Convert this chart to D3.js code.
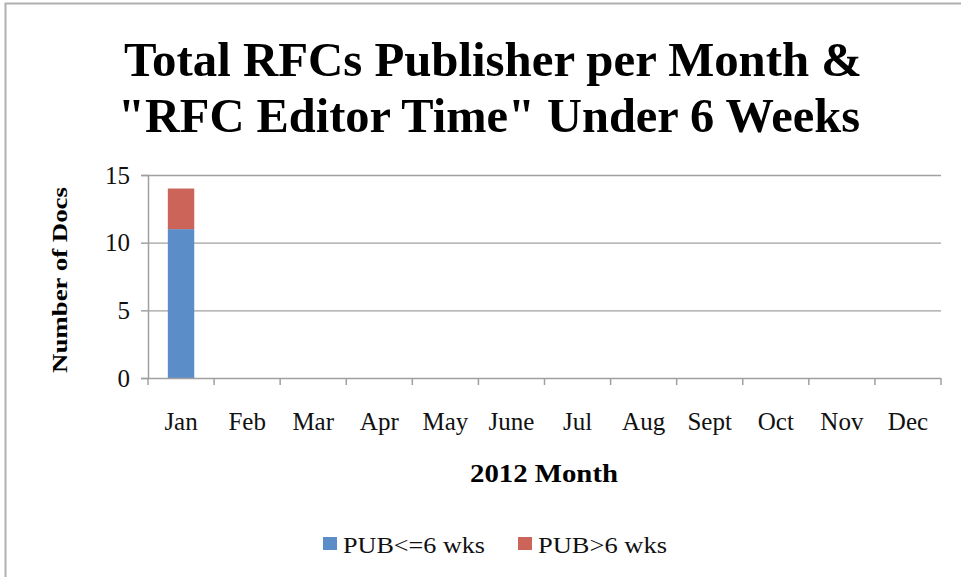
<!DOCTYPE html>
<html>
<head>
<meta charset="utf-8">
<script src="https://cdn.jsdelivr.net/npm/d3@7"></script>
<style>
  body { margin: 0; background: #fff; }
  svg { display: block; }
</style>
</head>
<body>
<div id="chart"></div>
<script>
const months = ["Jan", "Feb", "Mar", "Apr", "May", "June", "Jul", "Aug", "Sept", "Oct", "Nov", "Dec"];
const pubUnder6 = [11, 0, 0, 0, 0, 0, 0, 0, 0, 0, 0, 0];
const pubOver6 = [3, 0, 0, 0, 0, 0, 0, 0, 0, 0, 0, 0];
const seriesNames = ["PUB<=6 wks", "PUB>6 wks"];
const seriesColors = ["#5b8dc8", "#cc6459"];
const yTicks = [0, 5, 10, 15];

const W = 961, H = 577;
const margin = { top: 175, right: 20, bottom: 199, left: 148 };
const width = W - margin.left - margin.right;
const height = H - margin.top - margin.bottom;
const serif = "Liberation Serif, serif";

const svg = d3.select("#chart").append("svg")
    .attr("width", W)
    .attr("height", H);

// outer frame (top and left edges visible)
svg.append("path")
    .attr("d", `M5.5,${H} V3.5 H${W}`)
    .attr("fill", "none")
    .attr("stroke", "#b0b0b0")
    .attr("stroke-width", 2);

// title, squeezed to match the condensed original
const titleLines = ["Total RFCs Publisher per Month &", "\"RFC Editor Time\" Under 6 Weeks"];
const titleX = [[124, 862], [118, 860]];
svg.selectAll(".title")
    .data(titleLines)
    .join("text")
    .attr("class", "title")
    .attr("x", (d, i) => titleX[i][0])
    .attr("y", (d, i) => 76 + i * 56)
    .attr("font-family", serif)
    .attr("font-weight", "bold")
    .attr("font-size", 49)
    .attr("textLength", (d, i) => titleX[i][1] - titleX[i][0])
    .attr("lengthAdjust", "spacingAndGlyphs")
    .text(d => d);

const g = svg.append("g")
    .attr("transform", `translate(${margin.left},${margin.top})`);

const x = d3.scaleBand().domain(months).range([0, width]).paddingInner(0.6).paddingOuter(0.3);
const xOuter = d3.scaleBand().domain(months).range([0, width]);
const y = d3.scaleLinear().domain([0, 15]).range([height, 0]);

// gridlines
g.selectAll(".grid")
    .data(yTicks.filter(t => t > 0))
    .join("line")
    .attr("class", "grid")
    .attr("x1", 0).attr("x2", width)
    .attr("y1", d => y(d) + 0.5).attr("y2", d => y(d) + 0.5)
    .attr("stroke", "#a0a0a0")
    .attr("stroke-width", 1.3);

// stacked bars
const stackData = months.map((m, i) => ({ month: m, a: pubUnder6[i], b: pubOver6[i] }));
const stack = d3.stack().keys(["a", "b"])(stackData);
g.selectAll(".series")
    .data(stack)
    .join("g")
    .attr("class", "series")
    .attr("fill", (d, i) => seriesColors[i])
    .selectAll("rect")
    .data(d => d.filter(p => p[1] > p[0]))
    .join("rect")
    .attr("x", d => x(d.data.month))
    .attr("width", x.bandwidth())
    .attr("y", d => y(d[1]))
    .attr("height", d => y(d[0]) - y(d[1]));

// y axis
const yAxis = g.append("g")
    .call(d3.axisLeft(y).tickValues(yTicks).tickSize(7).tickPadding(11));
yAxis.select(".domain").attr("stroke", "#a0a0a0").attr("stroke-width", 1.5);
yAxis.selectAll(".tick line").attr("stroke", "#a0a0a0").attr("stroke-width", 1.5);
yAxis.selectAll(".tick text")
    .attr("font-family", serif)
    .attr("font-size", 25)
    .attr("fill", "#111");

// x axis baseline with category boundary ticks
const xa = g.append("g").attr("transform", `translate(0,${height})`);
xa.append("line")
    .attr("x1", 0).attr("x2", width)
    .attr("y1", 0.5).attr("y2", 0.5)
    .attr("stroke", "#a0a0a0").attr("stroke-width", 1.5);
const bounds = months.map(m => xOuter(m)).concat([width]);
xa.selectAll(".xtick")
    .data(bounds)
    .join("line")
    .attr("class", "xtick")
    .attr("x1", d => d).attr("x2", d => d)
    .attr("y1", 0).attr("y2", 7)
    .attr("stroke", "#a0a0a0").attr("stroke-width", 1.5);
xa.selectAll(".xlabel")
    .data(months)
    .join("text")
    .attr("class", "xlabel")
    .attr("x", d => xOuter(d) + xOuter.bandwidth() / 2)
    .attr("y", 52)
    .attr("text-anchor", "middle")
    .attr("font-family", serif)
    .attr("font-size", 25)
    .attr("fill", "#111")
    .text(d => d);

// axis titles
svg.append("text")
    .attr("x", 470)
    .attr("y", 482)
    .attr("font-family", serif)
    .attr("font-weight", "bold")
    .attr("font-size", 26)
    .attr("textLength", 148)
    .attr("lengthAdjust", "spacingAndGlyphs")
    .text("2012 Month");

svg.append("text")
    .attr("transform", "translate(67,373) rotate(-90)")
    .attr("font-family", serif)
    .attr("font-weight", "bold")
    .attr("font-size", 22)
    .attr("textLength", 186)
    .attr("lengthAdjust", "spacingAndGlyphs")
    .text("Number of Docs");

// legend
const legendX = [323, 518];
const legendW = [142, 129];
const legend = svg.selectAll(".legend")
    .data(seriesNames)
    .join("g")
    .attr("class", "legend")
    .attr("transform", (d, i) => `translate(${legendX[i]},537)`);
legend.append("rect")
    .attr("width", 14).attr("height", 13)
    .attr("fill", (d, i) => seriesColors[i]);
legend.append("text")
    .attr("x", 20)
    .attr("y", 16)
    .attr("font-family", serif)
    .attr("font-size", 23)
    .attr("fill", "#111")
    .attr("textLength", (d, i) => legendW[i])
    .attr("lengthAdjust", "spacingAndGlyphs")
    .text(d => d);
</script>
</body>
</html>
